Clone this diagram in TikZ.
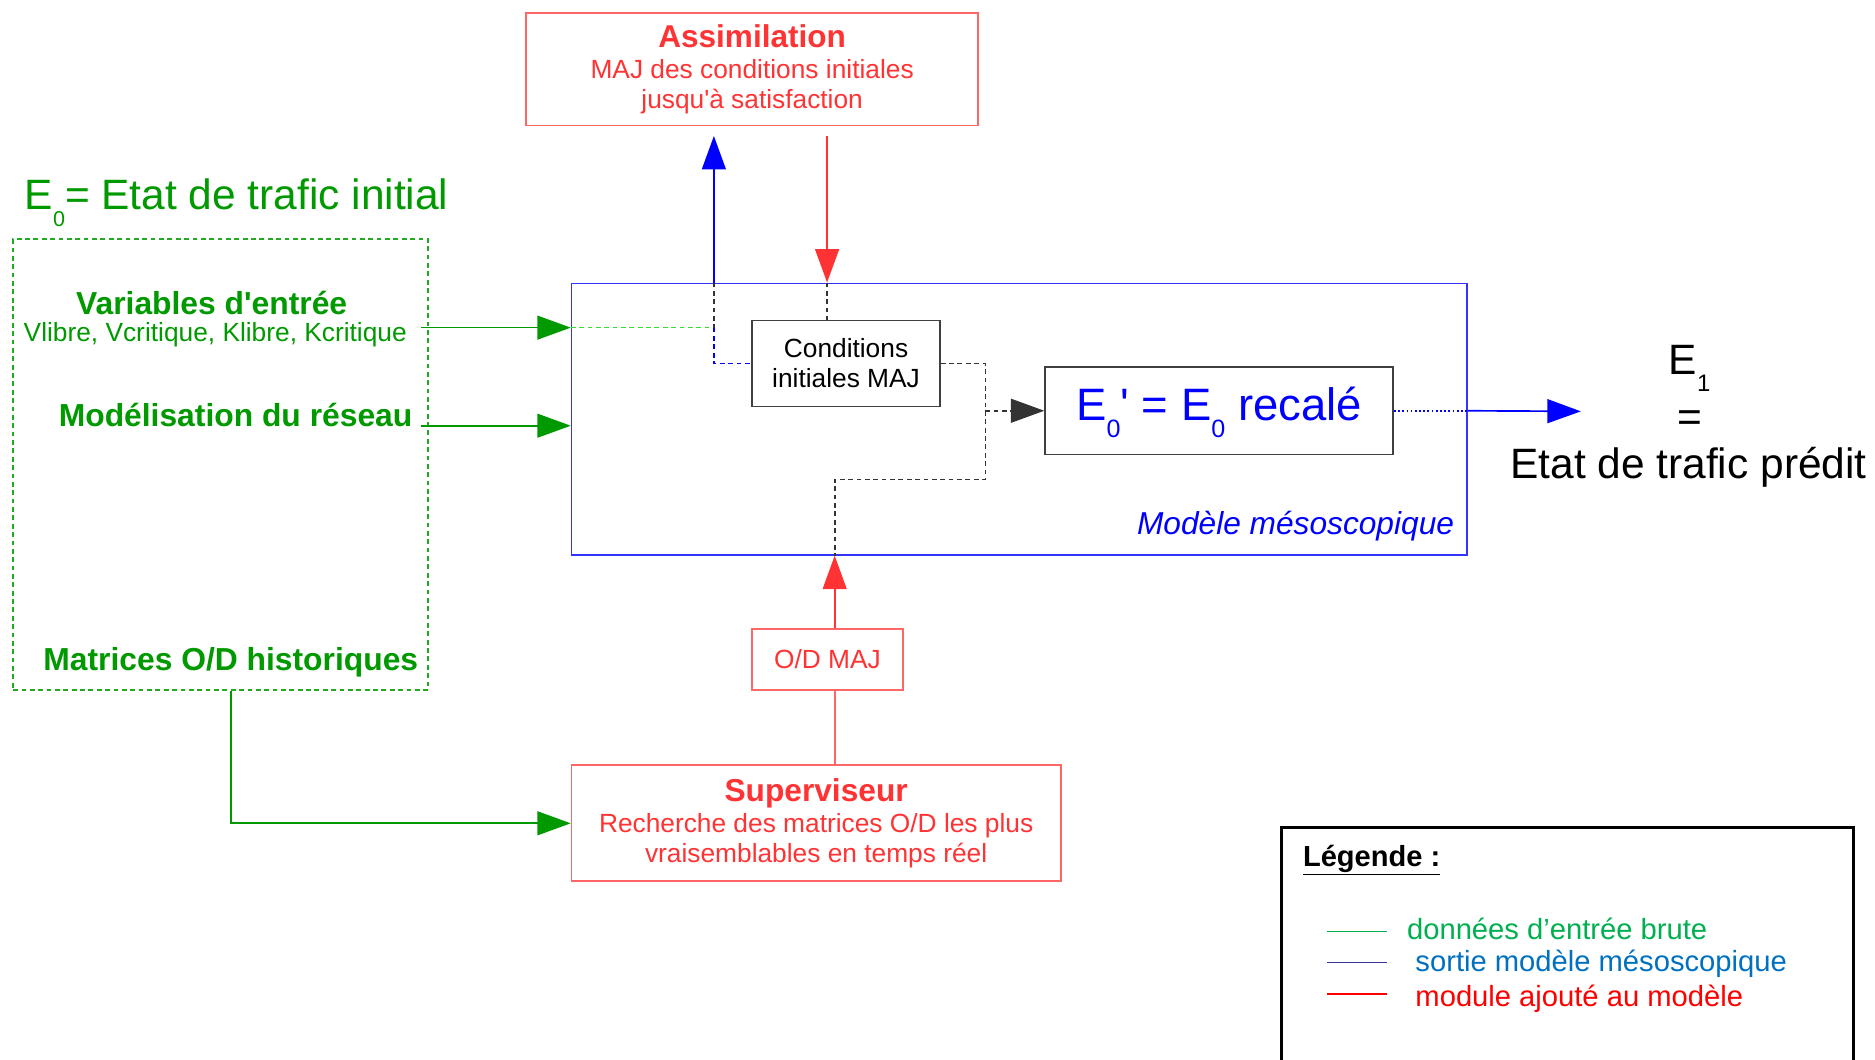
\documentclass[tikz,border=0pt]{standalone}
\usepackage{fontspec}
\setmainfont{Liberation Sans}[Ligatures=TeXOff]
\usetikzlibrary{arrows.meta,calc,positioning}
\definecolor{dgreen}{RGB}{0,153,0}
\definecolor{bgreen}{RGB}{34,170,34}
\definecolor{lgreen}{RGB}{51,221,51}
\definecolor{legreen}{RGB}{0,176,80}
\definecolor{leblue}{RGB}{0,112,192}
\definecolor{lenavy}{RGB}{51,51,153}
\definecolor{rred}{RGB}{255,51,51}
\definecolor{rline}{RGB}{255,102,102}
\definecolor{bline}{RGB}{51,51,255}
\newcommand\lowsub[2]{\raisebox{-14pt}[0pt][0pt]{\fontsize{#1}{#1}\selectfont #2}}
\tikzset{
  tip/.style={-{Triangle[length=28pt,width=20pt]}},
  redbox/.style={draw=rline,text=rred,align=center,inner sep=0pt},
  blackbox/.style={draw=black!75,align=center,inner sep=0pt},
  dashline/.style={dash pattern=on 4pt off 3pt},
  dotline/.style={dash pattern=on 1.5pt off 2pt,line width=1.5pt},
  f22/.style={font=\fontsize{22}{25}\selectfont},
  fbold/.style={font=\bfseries\fontsize{26.6}{28}\selectfont},
  fbig/.style={font=\fontsize{35.5}{38}\selectfont},
  fleg/.style={font=\fontsize{24.4}{26}\selectfont,anchor=west,inner sep=0pt}
}
\begin{document}
\begin{tikzpicture}[x=1pt,y=-1pt,line width=1.4pt]
\useasboundingbox (0,0) rectangle (1568,886);
\node[redbox,f22,minimum width=378pt,minimum height=94pt] (assim) at (629,58) {{\bfseries\fontsize{26.4}{28}\selectfont Assimilation}\\[1.5pt] MAJ des conditions initiales\\ jusqu'à satisfaction};
\node[draw=bline,minimum width=749pt,minimum height=227pt,inner sep=0pt] (meso) at (852.5,350.5) {};
\node[anchor=east,inner sep=0pt,text=blue,font=\itshape\fontsize{26.5}{28}\selectfont] (mesolab) at ($(meso.south east)+(-11,-25)$) {Modèle mésoscopique};
\node[blackbox,f22,minimum width=157pt,minimum height=72pt] (cond) at (707.5,304) {Conditions\\initiales MAJ};
\node[blackbox,text=blue,font=\fontsize{38}{40}\selectfont,minimum width=291pt,minimum height=73pt,text height=27pt,text depth=11pt] (recal) at (1019.5,343.5) {E\lowsub{21}{0}' = E\lowsub{21}{0} recalé};
\node[anchor=base west,inner sep=0pt,text=dgreen,fbig] (e0) at (20,175.5) {E\lowsub{18}{0}= Etat de trafic initial};
\node[draw=bgreen,dashline,minimum width=347pt,minimum height=377pt,inner sep=0pt] (inbox) at (184.5,388.5) {};
\node[text=dgreen,fbold] (var) at (177,253) {Variables d'entrée};
\node[text=dgreen,f22] (varl) at (180,280) {Vlibre, Vcritique, Klibre, Kcritique};
\node[text=dgreen,fbold] (reseau) at (197,347) {Modélisation du réseau};
\node[text=dgreen,fbold] (mat) at (193,554) {Matrices O/D historiques};
\node[redbox,f22,minimum width=126pt,minimum height=51pt] (od) at (692,551.5) {O/D MAJ};
\node[redbox,f22,minimum width=409pt,minimum height=97pt] (sup) at (682.5,688.5) {{\bfseries\fontsize{26.5}{28}\selectfont Superviseur}\\[1.5pt] Recherche des matrices O/D les plus\\ vraisemblables en temps réel};
\node[fbig] (e1) at (1413,301) {E\lowsub{20}{1}};
\node[fbig] (eq) at (1413,352) {=};
\node[fbig] (pred) at (1412,391) {Etat de trafic prédit};
\coordinate (fork) at (597,274);
\coordinate (v1) at (352,274);
\coordinate (v2) at (352,356);
\coordinate (ctop) at ($(cond.north west)!.4!(cond.north east)$);
\coordinate (kx) at (824,401);
\coordinate (odx) at ($(od.north)+(6,0)$);
\coordinate (outp) at (1322,344);
\draw[dgreen,tip] (v1) -- (meso.west |- fork);
\draw[lgreen,dashline] (meso.west |- fork) -- (fork);
\draw[black!80,dashline] (meso.north -| fork) -- (fork);
\draw[blue,dashline] (fork) |- (cond.west);
\draw[blue,tip,shorten >=8pt] (meso.north -| fork) -- (assim.south -| fork);
\draw[rred,tip,shorten <=8pt] (assim.south -| ctop) -- (meso.north -| ctop);
\draw[black!80,dashline] (meso.north -| ctop) -- (ctop);
\draw[dgreen,tip] (v2) -- (meso.west |- v2);
\draw[black!80,dashline] (cond.east) -| (kx) -| (meso.south -| odx);
\draw[black!80,dashline,tip] (recal.west -| kx) -- (recal.west);
\draw[rred,tip] (od.north -| odx) -- (meso.south -| odx);
\draw[rline] (sup.north -| odx) -- (od.south -| odx);
\draw[blue,dotline] (recal.east) -- (recal.east -| meso.east);
\draw[blue,tip] (recal.east -| meso.east) -- (outp);
\draw[dgreen,tip] (inbox.south -| mat) |- (sup.west);
\draw[line width=2.4pt] (1072,895) |- (1550,692) -- (1550,895);
\node[anchor=west,inner sep=0pt,font=\bfseries\fontsize{24.3}{26}\selectfont] (leg) at (1089,719) {\underline{Légende :}};
\node[fleg,text=legreen] (l1) at (1176,777) {données d’entrée brute};
\node[fleg,text=leblue] (l2) at (1183,806) {sortie modèle mésoscopique};
\node[fleg,text=red] (l3) at (1183,835) {module ajouté au modèle};
\draw[legreen] (1110,779) -- (1160,779);
\draw[lenavy] (1110,805) -- (1160,805);
\draw[red] (1110,831) -- (1160,831);
\end{tikzpicture}
\end{document}
